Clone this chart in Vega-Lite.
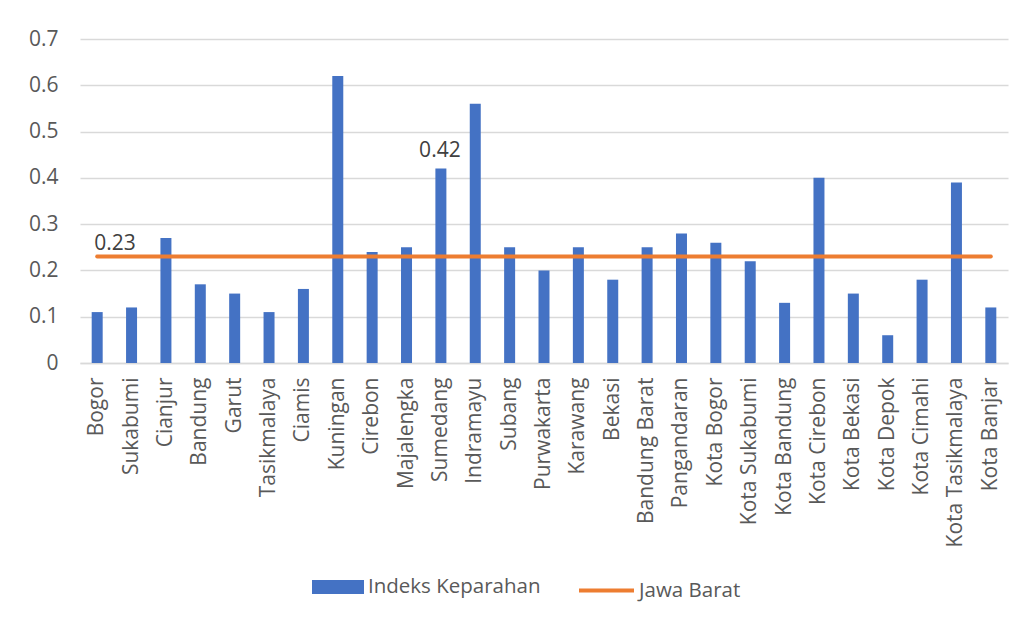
{
  "$schema": "https://vega.github.io/schema/vega-lite/v6.json",
  "autosize": "none",
  "width": 928,
  "height": 324,
  "padding": {"left": 80, "top": 39, "right": 17, "bottom": 257},
  "background": "white",
  "config": {
    "view": {"stroke": null},
    "font": "Open Sans",
    "axis": {"labelFont": "Open Sans", "labelColor": "#595959", "labelFontSize": 21}
  },
  "data": {
    "values": [
      {"kab": "Bogor", "nilai": 0.11, "jabar": 0.23},
      {"kab": "Sukabumi", "nilai": 0.12, "jabar": 0.23},
      {"kab": "Cianjur", "nilai": 0.27, "jabar": 0.23},
      {"kab": "Bandung", "nilai": 0.17, "jabar": 0.23},
      {"kab": "Garut", "nilai": 0.15, "jabar": 0.23},
      {"kab": "Tasikmalaya", "nilai": 0.11, "jabar": 0.23},
      {"kab": "Ciamis", "nilai": 0.16, "jabar": 0.23},
      {"kab": "Kuningan", "nilai": 0.62, "jabar": 0.23},
      {"kab": "Cirebon", "nilai": 0.24, "jabar": 0.23},
      {"kab": "Majalengka", "nilai": 0.25, "jabar": 0.23},
      {"kab": "Sumedang", "nilai": 0.42, "jabar": 0.23},
      {"kab": "Indramayu", "nilai": 0.56, "jabar": 0.23},
      {"kab": "Subang", "nilai": 0.25, "jabar": 0.23},
      {"kab": "Purwakarta", "nilai": 0.20, "jabar": 0.23},
      {"kab": "Karawang", "nilai": 0.25, "jabar": 0.23},
      {"kab": "Bekasi", "nilai": 0.18, "jabar": 0.23},
      {"kab": "Bandung Barat", "nilai": 0.25, "jabar": 0.23},
      {"kab": "Pangandaran", "nilai": 0.28, "jabar": 0.23},
      {"kab": "Kota Bogor", "nilai": 0.26, "jabar": 0.23},
      {"kab": "Kota Sukabumi", "nilai": 0.22, "jabar": 0.23},
      {"kab": "Kota Bandung", "nilai": 0.13, "jabar": 0.23},
      {"kab": "Kota Cirebon", "nilai": 0.40, "jabar": 0.23},
      {"kab": "Kota Bekasi", "nilai": 0.15, "jabar": 0.23},
      {"kab": "Kota Depok", "nilai": 0.06, "jabar": 0.23},
      {"kab": "Kota Cimahi", "nilai": 0.18, "jabar": 0.23},
      {"kab": "Kota Tasikmalaya", "nilai": 0.39, "jabar": 0.23},
      {"kab": "Kota Banjar", "nilai": 0.12, "jabar": 0.23}
    ]
  },
  "encoding": {
    "x": {
      "field": "kab", "type": "nominal", "sort": null, "title": null,
      "scale": {"paddingInner": 0.68, "paddingOuter": 0.34},
      "axis": {"labelAngle": -90, "ticks": false, "domainColor": "#d9d9d9", "domainWidth": 1.5, "labelPadding": 14, "labelLimit": 300}
    }
  },
  "layer": [
    {
      "mark": {"type": "bar", "color": "#4472C4"},
      "encoding": {
        "y": {
          "field": "nilai", "type": "quantitative", "title": null,
          "scale": {"domain": [0, 0.7]},
          "axis": {"values": [0, 0.1, 0.2, 0.3, 0.4, 0.5, 0.6, 0.7], "labelExpr": "datum.value == 0 ? '0' : format(datum.value, '.1f')", "ticks": false, "domain": false, "gridColor": "#d9d9d9", "gridWidth": 1.5, "labelPadding": 22}
        },
        "fill": {
          "datum": "Indeks Keparahan",
          "scale": {"domain": ["Indeks Keparahan"], "range": ["#4472C4"]},
          "legend": {"title": null, "orient": "none", "legendX": 232, "legendY": 522, "symbolType": "M-1,-0.27H1V0.27H-1Z", "symbolSize": 2704, "symbolStrokeWidth": 0, "labelFontSize": 20.5, "labelColor": "#595959", "labelFont": "Open Sans", "labelOffset": 4, "labelLimit": 400}
        }
      }
    },
    {
      "mark": {"type": "line", "strokeWidth": 4, "strokeCap": "round"},
      "encoding": {
        "y": {"field": "jabar", "type": "quantitative"},
        "stroke": {
          "datum": "Jawa Barat",
          "scale": {"domain": ["Jawa Barat"], "range": ["#ED7D31"]},
          "legend": {"title": null, "orient": "none", "legendX": 497, "legendY": 522, "symbolType": "stroke", "symbolSize": 3025, "symbolStrokeWidth": 4, "labelFontSize": 20.5, "labelColor": "#595959", "labelFont": "Open Sans", "labelOffset": 3, "labelLimit": 400}
        }
      }
    },
    {
      "transform": [{"filter": "datum.kab == 'Bogor'"}],
      "mark": {"type": "text", "align": "left", "baseline": "bottom", "dx": -3, "dy": -3, "fontSize": 21, "color": "#404040"},
      "encoding": {
        "y": {"field": "jabar", "type": "quantitative"},
        "text": {"field": "jabar", "type": "quantitative", "format": ".2f"}
      }
    },
    {
      "transform": [{"filter": "datum.kab == 'Sumedang'"}],
      "mark": {"type": "text", "align": "center", "baseline": "bottom", "dx": -1, "dy": -8, "fontSize": 21, "color": "#404040"},
      "encoding": {
        "y": {"field": "nilai", "type": "quantitative"},
        "text": {"field": "nilai", "type": "quantitative", "format": ".2f"}
      }
    }
  ]
}
